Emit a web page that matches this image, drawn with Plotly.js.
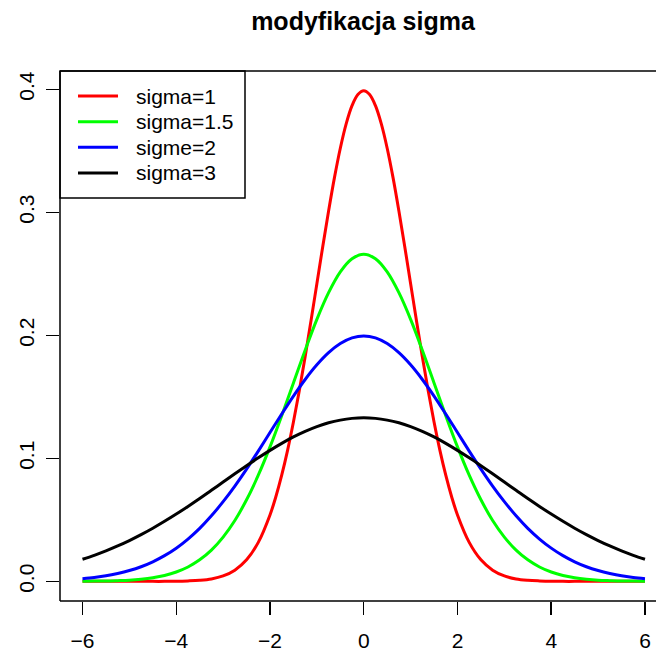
<!DOCTYPE html>
<html>
<head>
<meta charset="utf-8">
<script src="https://cdn.plot.ly/plotly-3.0.1.min.js"></script>
<style>html,body{margin:0;padding:0;background:#fff;}#chart{width:656px;height:652px;}</style>
</head>
<body>
<div id="chart"></div>
<script>
// x grid of the wider curves
const xValues = [-6,-5.75,-5.5,-5.25,-5,-4.75,-4.5,-4.25,-4,-3.75,-3.5,-3.25,-3,-2.75,-2.5,-2.25,-2,-1.75,-1.5,-1.25,-1,-0.75,-0.5,-0.25,0,0.25,0.5,0.75,1,1.25,1.5,1.75,2,2.25,2.5,2.75,3,3.25,3.5,3.75,4,4.25,4.5,4.75,5,5.25,5.5,5.75,6];

// finer x grid for the narrow sigma=1 curve
const xSigma1 = [-6,-5.75,-5.5,-5.25,-5,-4.75,-4.5,-4.25,-4,-3.75,-3.5,-3.25,-3,-2.75,-2.5,-2.25,-2,-1.875,-1.75,-1.625,-1.5,-1.375,-1.25,-1.125,-1,-0.875,-0.75,-0.625,-0.5,-0.375,-0.25,-0.125,0,0.125,0.25,0.375,0.5,0.625,0.75,0.875,1,1.125,1.25,1.375,1.5,1.625,1.75,1.875,2,2.25,2.5,2.75,3,3.25,3.5,3.75,4,4.25,4.5,4.75,5,5.25,5.5,5.75,6];

const sigma1 = [0,0,0,0,0,0,0,0,0.0001,0.0004,0.0009,0.0020,0.0044,0.0091,0.0175,0.0317,0.0540,0.0688,0.0863,0.1065,0.1295,0.1550,0.1826,0.2119,0.2420,0.2721,0.3011,0.3282,0.3521,0.3719,0.3867,0.3958,0.3989,0.3958,0.3867,0.3719,0.3521,0.3282,0.3011,0.2721,0.2420,0.2119,0.1826,0.1550,0.1295,0.1065,0.0863,0.0688,0.0540,0.0317,0.0175,0.0091,0.0044,0.0020,0.0009,0.0004,0.0001,0,0,0,0,0,0,0,0];

const sigma15 = [0.0001,0.0002,0.0003,0.0006,0.0010,0.0018,0.0030,0.0048,0.0076,0.0117,0.0175,0.0254,0.0360,0.0495,0.0663,0.0863,0.1093,0.1347,0.1613,0.1879,0.2130,0.2347,0.2516,0.2623,0.2660,0.2623,0.2516,0.2347,0.2130,0.1879,0.1613,0.1347,0.1093,0.0863,0.0663,0.0495,0.0360,0.0254,0.0175,0.0117,0.0076,0.0048,0.0030,0.0018,0.0010,0.0006,0.0003,0.0002,0.0001];

const sigma2 = [0.0022,0.0032,0.0045,0.0064,0.0088,0.0119,0.0159,0.0209,0.0270,0.0344,0.0431,0.0533,0.0648,0.0775,0.0913,0.1059,0.1210,0.1360,0.1506,0.1641,0.1760,0.1859,0.1933,0.1979,0.1995,0.1979,0.1933,0.1859,0.1760,0.1641,0.1506,0.1360,0.1210,0.1059,0.0913,0.0775,0.0648,0.0533,0.0431,0.0344,0.0270,0.0209,0.0159,0.0119,0.0088,0.0064,0.0045,0.0032,0.0022];

const sigma3 = [0.0180,0.0212,0.0248,0.0288,0.0332,0.0380,0.0432,0.0488,0.0547,0.0609,0.0673,0.0740,0.0807,0.0874,0.0940,0.1004,0.1065,0.1122,0.1174,0.1219,0.1258,0.1289,0.1311,0.1325,0.1330,0.1325,0.1311,0.1289,0.1258,0.1219,0.1174,0.1122,0.1065,0.1004,0.0940,0.0874,0.0807,0.0740,0.0673,0.0609,0.0547,0.0488,0.0432,0.0380,0.0332,0.0288,0.0248,0.0212,0.0180];

const seriesNames = ["sigma=1", "sigma=1.5", "sigme=2", "sigma=3"];
const seriesColors = ["#FF0000", "#00FF00", "#0000FF", "#000000"];
const seriesX = [xSigma1, xValues, xValues, xValues];
const seriesValues = [sigma1, sigma15, sigma2, sigma3];

const xTickVals = [-6, -4, -2, 0, 2, 4, 6];
const xTickText = ["\u22126", "\u22124", "\u22122", "0", "2", "4", "6"];
const yTickVals = [0, 0.1, 0.2, 0.3, 0.4];
const yTickText = ["0.0", "0.1", "0.2", "0.3", "0.4"];

const FONT = "Liberation Sans, Arial, Helvetica, sans-serif";

// plot area in pixels
const W = 656, H = 652;
const L = 60, R = 0, T = 71, B = 51;
const PW = W - L - R, PH = H - T - B;
const px = x => (x - L) / PW;
const py = y => (H - B - y) / PH;

const traces = seriesValues.map((vals, i) => ({
  type: "scatter",
  mode: "lines",
  x: seriesX[i],
  y: vals,
  name: seriesNames[i],
  line: {color: seriesColors[i], width: 3, shape: "spline", smoothing: 1},
  showlegend: false,
  hoverinfo: "skip"
}));

const shapes = [
  // plot box (left, top, bottom; right edge lies outside the image)
  {type: "line", xref: "paper", yref: "paper", x0: 0, x1: 0, y0: 0, y1: 1, line: {color: "#000", width: 1.5}},
  {type: "line", xref: "paper", yref: "paper", x0: 0, x1: 1.02, y0: 1, y1: 1, line: {color: "#000", width: 1.5}},
  {type: "line", xref: "paper", yref: "paper", x0: 0, x1: 1.02, y0: 0, y1: 0, line: {color: "#000", width: 1.5}},
  // legend box
  {type: "rect", xref: "paper", yref: "paper", x0: px(60), x1: px(245), y0: py(198), y1: py(71),
   line: {color: "#000", width: 1.5}, fillcolor: "rgba(255,255,255,0)"}
];
const annotations = [];
const rowY = [96, 121.7, 147.3, 173];
seriesNames.forEach((nm, i) => {
  shapes.push({type: "line", xref: "paper", yref: "paper", x0: px(78), x1: px(118), y0: py(rowY[i]), y1: py(rowY[i]),
    line: {color: seriesColors[i], width: 3}});
  annotations.push({xref: "paper", yref: "paper", x: px(134), y: py(rowY[i]), xanchor: "left", yanchor: "middle",
    text: nm, showarrow: false, font: {family: FONT, size: 21, color: "#000"}});
});

const layout = {
  width: W, height: H,
  margin: {l: L, r: R, t: T, b: B, pad: 0},
  paper_bgcolor: "#fff", plot_bgcolor: "#fff",
  title: {text: "modyfikacja sigma", font: {family: FONT, size: 25, color: "#000", weight: "bold"},
          x: 363 / W, xanchor: "center", xref: "container", y: 1 - 21 / H, yanchor: "middle", yref: "container"},
  xaxis: {range: [-6.48, 6.235], showgrid: false, zeroline: false, showline: false,
          tickmode: "array", tickvals: xTickVals, ticktext: xTickText,
          ticks: "outside", ticklen: 13, tickwidth: 1.5, tickcolor: "#000",
          tickfont: {family: FONT, size: 21, color: "#000"}, ticklabelstandoff: 8},
  yaxis: {range: [-0.01596, 0.41489], showgrid: false, zeroline: false, showline: false,
          tickmode: "array", tickvals: yTickVals, ticktext: yTickText, tickangle: -90,
          ticks: "outside", ticklen: 13, tickwidth: 1.5, tickcolor: "#000",
          tickfont: {family: FONT, size: 21, color: "#000"}, ticklabelstandoff: 4},
  shapes: shapes,
  annotations: annotations,
  showlegend: false
};

Plotly.newPlot("chart", traces, layout, {staticPlot: true, displayModeBar: false});
</script>
</body>
</html>
